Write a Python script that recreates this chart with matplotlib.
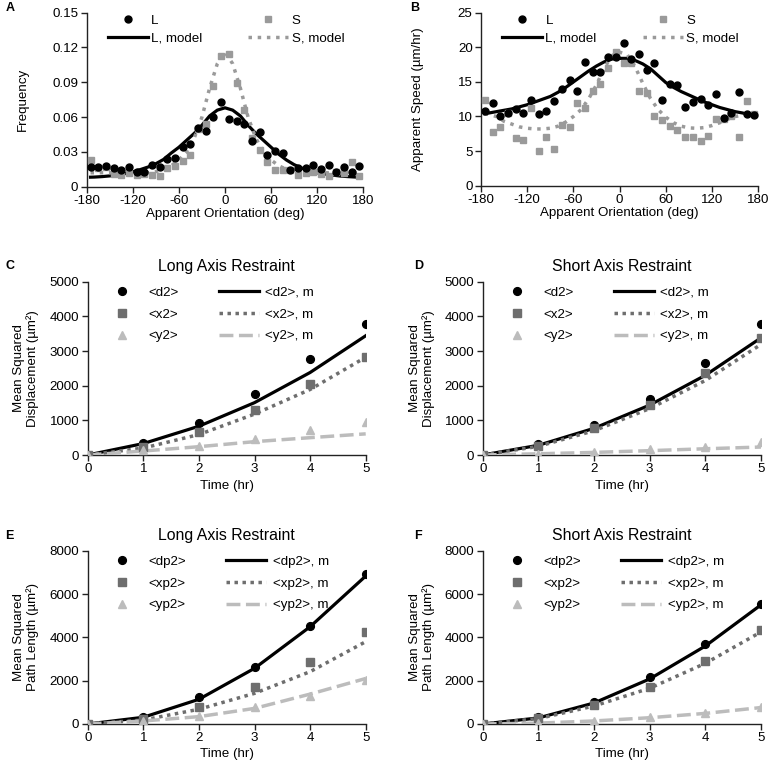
import matplotlib
matplotlib.use("Agg")
import matplotlib.pyplot as plt

plt.rcParams['font.family'] = ['Liberation Sans', 'DejaVu Sans']
plt.rcParams['axes.unicode_minus'] = False

# ---------------- data ----------------
ang = [-175, -165, -155, -145, -135, -125, -115, -105, -95, -85, -75, -65, -55, -45,
       -35, -25, -15, -5, 5, 15, 25, 35, 45, 55, 65, 75, 85, 95, 105, 115, 125, 135,
       145, 155, 165, 175]
freq_L = [0.017, 0.017, 0.018, 0.016, 0.014, 0.017, 0.013, 0.013, 0.019, 0.017, 0.024, 0.025,
          0.034, 0.037, 0.051, 0.048, 0.060, 0.073, 0.058, 0.057, 0.054, 0.039, 0.047, 0.027,
          0.031, 0.029, 0.014, 0.016, 0.016, 0.019, 0.015, 0.019, 0.013, 0.017, 0.013, 0.018]
freq_S = [0.023, 0.016, 0.017, 0.011, 0.010, 0.0115, 0.010, 0.011, 0.010, 0.009, 0.016, 0.018,
          0.022, 0.027, 0.050, 0.054, 0.087, 0.113, 0.114, 0.089, 0.066, 0.042, 0.032, 0.021,
          0.014, 0.014, 0.014, 0.010, 0.012, 0.013, 0.011, 0.009, 0.013, 0.012, 0.021, 0.009]

model_ang = [-175, -170, -160, -150, -140, -130, -120, -110, -100, -90, -80, -70, -60, -50,
             -40, -30, -20, -10, 0, 10, 20, 30, 40, 50, 60, 70, 80, 90, 100, 110, 120, 130,
             140, 150, 160, 170, 175]
freq_L_model = [0.0082, 0.0083, 0.0087, 0.0093, 0.0102, 0.0113, 0.0128, 0.0148, 0.0170, 0.0198,
                0.0235, 0.029, 0.034, 0.040, 0.046, 0.053, 0.061, 0.066, 0.068, 0.066, 0.061,
                0.053, 0.046, 0.040, 0.034, 0.028, 0.023, 0.019, 0.016, 0.014, 0.012, 0.011,
                0.0100, 0.0092, 0.0087, 0.0083, 0.0082]
freq_S_model = [0.012, 0.012, 0.012, 0.012, 0.012, 0.012, 0.012, 0.012, 0.012, 0.013, 0.015,
                0.018, 0.023, 0.030, 0.042, 0.060, 0.085, 0.106, 0.116, 0.106, 0.085, 0.060,
                0.042, 0.030, 0.023, 0.018, 0.015, 0.013, 0.012, 0.012, 0.012, 0.012, 0.012,
                0.012, 0.012, 0.012, 0.012]

speed_L = [10.8, 12.0, 10.0, 10.5, 11.1, 10.5, 12.4, 10.4, 10.8, 12.3, 14.0, 15.3, 13.7, 17.9,
           16.5, 16.4, 18.6, 18.6, 20.6, 18.3, 19.0, 16.7, 17.8, 12.4, 14.7, 14.6, 11.4, 12.1,
           12.5, 11.7, 13.2, 9.8, 10.5, 13.6, 10.4, 10.2]
speed_S = [12.4, 7.8, 8.5, 10.5, 6.85, 6.6, 11.3, 5.0, 7.0, 5.3, 8.8, 8.5, 11.9, 11.2, 13.7,
           14.7, 17.05, 19.3, 17.8, 17.7, 13.7, 13.4, 10.1, 9.5, 8.6, 8.05, 7.1, 7.0, 6.5, 7.2,
           9.6, 9.6, 10.0, 7.1, 12.2, 10.3]
speed_L_model = [10.4, 10.5, 10.7, 10.9, 11.1, 11.4, 11.7, 12.1, 12.5, 12.9, 13.5, 14.2, 15.0,
                 15.8, 16.6, 17.3, 17.9, 18.3, 18.4, 18.4, 18.1, 17.6, 16.9, 15.9, 14.9, 14.2,
                 13.6, 13.1, 12.6, 12.1, 11.7, 11.3, 11.0, 10.7, 10.5, 10.2, 10.1]
speed_S_model = [10.4, 10.3, 10.0, 9.3, 8.9, 8.5, 8.3, 8.2, 8.2, 8.3, 8.6, 9.2, 10.0, 11.0,
                 12.6, 14.6, 17.0, 18.8, 19.3, 18.9, 17.2, 14.8, 12.6, 11.0, 9.9, 9.1, 8.6,
                 8.35, 8.3, 8.4, 8.7, 9.1, 9.6, 10.0, 10.2, 10.3, 10.4]

time = [0, 1, 2, 3, 4, 5]
# C: long axis restraint, displacement
C_d2 = [0, 356, 913, 1760, 2770, 3780]
C_x2 = [0, 230, 650, 1290, 2050, 2840]
C_y2 = [0, 144, 260, 452, 721, 942]
C_d2m = [0, 330, 830, 1510, 2380, 3440]
C_x2m = [0, 200, 590, 1180, 1890, 2820]
C_y2m = [0, 115, 240, 385, 500, 610]
# D: short axis restraint, displacement
D_d2 = [0, 308, 865, 1615, 2644, 3779]
D_x2 = [0, 260, 770, 1442, 2365, 3385]
D_y2 = [0, 30, 96, 163, 240, 365]
D_d2m = [0, 280, 770, 1440, 2300, 3380]
D_x2m = [0, 250, 700, 1340, 2150, 3190]
D_y2m = [0, 35, 75, 125, 180, 230]
# E: long axis restraint, path length
E_dp2 = [0, 338, 1230, 2645, 4537, 6906]
E_xp2 = [0, 246, 800, 1690, 2845, 4260]
E_yp2 = [0, 154, 370, 770, 1307, 2030]
E_dp2m = [0, 310, 1140, 2570, 4490, 6830]
E_xp2m = [0, 185, 680, 1415, 2415, 3800]
E_yp2m = [0, 140, 340, 720, 1380, 2100]
# F: short axis restraint, path length
F_dp2 = [0, 308, 1030, 2153, 3690, 5520]
F_xp2 = [0, 260, 877, 1723, 2922, 4337]
F_yp2 = [0, 60, 154, 308, 523, 800]
F_dp2m = [0, 280, 970, 2080, 3600, 5500]
F_xp2m = [0, 250, 830, 1650, 2800, 4250]
F_yp2m = [0, 40, 140, 290, 490, 760]

ang_ticks = [-180, -120, -60, 0, 60, 120, 180]
ang_ticklabels = ['-180', '-120', '-60', '0', '60', '120', '180']
freq_ticks = [0, 0.03, 0.06, 0.09, 0.12, 0.15]
freq_ticklabels = ['0', '0.03', '0.06', '0.09', '0.12', '0.15']
speed_ticks = [0, 5, 10, 15, 20, 25]
msd_ticks = [0, 1000, 2000, 3000, 4000, 5000]
path_ticks = [0, 2000, 4000, 6000, 8000]

# ---------------- style ----------------
BLACK = '#000000'
GRAY_S = '#9a9a9a'
DARK = '#6e6e6e'
LIGHT = '#bcbcbc'
FS = 9.6

W, H = 770, 766
fig = plt.figure(figsize=(W / 100, H / 100), dpi=100)


def axes_px(x0, x1, ytop, ybot):
    return fig.add_axes([x0 / W, 1 - ybot / H, (x1 - x0) / W, (ybot - ytop) / H])


def style(ax):
    for s in ['top', 'right']:
        ax.spines[s].set_visible(False)
    for s in ['left', 'bottom']:
        ax.spines[s].set_linewidth(1.0)
        ax.spines[s].set_color('#222222')
    ax.tick_params(direction='out', length=4, width=1.0, labelsize=FS, color='#222222', pad=2)


def panel_letter(x, y, s):
    fig.text(x / W, 1 - y / H, s, fontsize=9, fontweight='bold', ha='left', va='center')


# ---- A ----
axA = axes_px(86.7, 363.3, 12.7, 186.7)
style(axA)
axA.plot(ang, freq_L, 'o', color=BLACK, ms=5.0, label='L', zorder=4)
axA.plot(ang, freq_S, 's', color=GRAY_S, ms=4.9, label='S', zorder=3)
axA.plot(model_ang, freq_L_model, '-', color=BLACK, lw=2.3, label='L, model', zorder=2)
axA.plot(model_ang, freq_S_model, ':', color=GRAY_S, lw=2.5, label='S, model', zorder=2)
axA.set_xlim(-180, 180)
axA.set_ylim(0, 0.15)
axA.set_xticks(ang_ticks, ang_ticklabels)
axA.set_yticks(freq_ticks, freq_ticklabels)
axA.set_xlabel('Apparent Orientation (deg)', fontsize=FS, labelpad=1)
axA.set_ylabel('Frequency', fontsize=FS)
axA.yaxis.set_label_coords(-0.21, 0.5)

# ---- B ----
axB = axes_px(481.0, 758.3, 12.7, 185.7)
style(axB)
axB.plot(ang, speed_L, 'o', color=BLACK, ms=5.0, label='L', zorder=4)
axB.plot(ang, speed_S, 's', color=GRAY_S, ms=4.9, label='S', zorder=3)
axB.plot(model_ang, speed_L_model, '-', color=BLACK, lw=2.3, label='L, model', zorder=2)
axB.plot(model_ang, speed_S_model, ':', color=GRAY_S, lw=2.5, label='S, model', zorder=2)
axB.set_xlim(-180, 180)
axB.set_ylim(0, 25)
axB.set_xticks(ang_ticks, ang_ticklabels)
axB.set_yticks(speed_ticks)
axB.set_xlabel('Apparent Orientation (deg)', fontsize=FS, labelpad=1)
axB.set_ylabel('Apparent Speed (µm/hr)', fontsize=FS)
axB.yaxis.set_label_coords(-0.207, 0.5)

for ax in (axA, axB):
    h, l = ax.get_legend_handles_labels()
    order = [0, 2, 1, 3]
    ax.legend([h[i] for i in order], [l[i] for i in order], ncol=2, frameon=False,
              fontsize=FS, loc='upper left', bbox_to_anchor=(0.076, 0.99),
              handlelength=3.0, handletextpad=0.25, columnspacing=3.45,
              labelspacing=0.42, borderaxespad=0, borderpad=0)


def msd_panel(x0, x1, ytop, ybot, title, pts, mods, labels, yticks, ylabel, lab_x):
    ax = axes_px(x0, x1, ytop, ybot)
    style(ax)
    a, b, c = pts
    am, bm, cm = mods
    h1, = ax.plot(time, a, 'o', color=BLACK, ms=5.6, zorder=4)
    h2, = ax.plot(time, b, 's', color=DARK, ms=5.4, zorder=4)
    h3, = ax.plot(time, c, '^', color=LIGHT, ms=5.8, zorder=4)
    h4, = ax.plot(time, am, '-', color=BLACK, lw=2.3, zorder=3)
    h5, = ax.plot(time, bm, linestyle=(0, (1, 1.3)), color=DARK, lw=2.5, zorder=3)
    h6, = ax.plot(time, cm, linestyle=(0, (4, 1.6)), color=LIGHT, lw=2.5, zorder=3)
    ax.set_xlim(0, 5)
    ax.set_ylim(0, yticks[-1])
    ax.set_xticks(time)
    ax.set_yticks(yticks)
    ax.set_xlabel('Time (hr)', fontsize=FS, labelpad=3)
    ax.set_ylabel(ylabel, fontsize=FS, linespacing=1.15)
    ax.yaxis.set_label_coords(lab_x, 0.5)
    ax.set_title(title, fontsize=11.4, pad=8)
    ax.legend([h1, h2, h3, h4, h5, h6],
              [labels[0], labels[1], labels[2], labels[0] + ', m', labels[1] + ', m',
               labels[2] + ', m'],
              ncol=2, frameon=False, fontsize=FS, loc='upper left',
              bbox_to_anchor=(0.05, 0.972), handlelength=3.0, handletextpad=0.5,
              columnspacing=3.0, labelspacing=0.7, borderaxespad=0, borderpad=0)
    return ax


msd_panel(87.7, 365.7, 281.7, 455, 'Long Axis Restraint', (C_d2, C_x2, C_y2),
          (C_d2m, C_x2m, C_y2m), ('<d2>', '<x2>', '<y2>'), msd_ticks,
          'Mean Squared\nDisplacement (µm²)', -0.175)
msd_panel(482.7, 761.0, 281.7, 455, 'Short Axis Restraint', (D_d2, D_x2, D_y2),
          (D_d2m, D_x2m, D_y2m), ('<d2>', '<x2>', '<y2>'), msd_ticks,
          'Mean Squared\nDisplacement (µm²)', -0.17)
msd_panel(87.7, 365.7, 550.7, 724, 'Long Axis Restraint', (E_dp2, E_xp2, E_yp2),
          (E_dp2m, E_xp2m, E_yp2m), ('<dp2>', '<xp2>', '<yp2>'), path_ticks,
          'Mean Squared\nPath Length (µm²)', -0.175)
msd_panel(482.7, 761.0, 550.7, 724, 'Short Axis Restraint', (F_dp2, F_xp2, F_yp2),
          (F_dp2m, F_xp2m, F_yp2m), ('<dp2>', '<xp2>', '<yp2>'), path_ticks,
          'Mean Squared\nPath Length (µm²)', -0.17)

panel_letter(6, 8, 'A')
panel_letter(410, 8, 'B')
panel_letter(6, 266, 'C')
panel_letter(414, 266, 'D')
panel_letter(5, 536, 'E')
panel_letter(414, 536, 'F')

fig.savefig('out.png', dpi=100)
